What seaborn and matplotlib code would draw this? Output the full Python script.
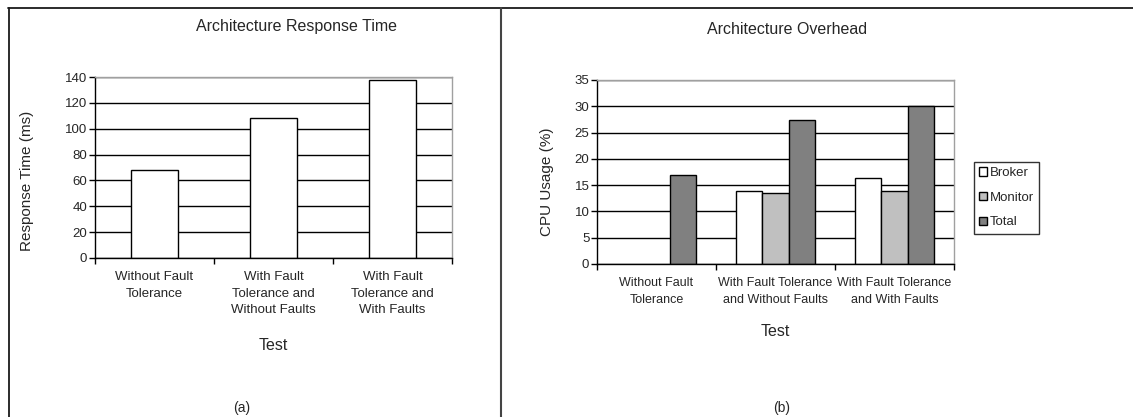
import numpy as np
import pandas as pd
import matplotlib
matplotlib.use("Agg")
import matplotlib.pyplot as plt
from matplotlib.lines import Line2D
from matplotlib.patches import Patch
import seaborn as sns

# ---------------- data ----------------
tests_a = ["Without Fault\nTolerance",
           "With Fault\nTolerance and\nWithout Faults",
           "With Fault\nTolerance and\nWith Faults"]
response_ms = [68, 108, 138]

tests_b = ["Without Fault\nTolerance",
           "With Fault Tolerance\nand Without Faults",
           "With Fault Tolerance\nand With Faults"]
metrics = ["Broker", "Monitor", "Total"]
broker = [np.nan, 13.9, 16.4]
monitor = [np.nan, 13.6, 13.9]
total = [17.0, 27.4, 30.0]
colors = ["#ffffff", "#c0c0c0", "#808080"]

yticks_a = list(range(0, 141, 20))
yticks_b = list(range(0, 36, 5))

# ---------------- style ----------------
sns.set_style("white")
plt.rcParams["font.family"] = ["Liberation Sans", "DejaVu Sans"]

W, H = 1133, 417
fig = plt.figure(figsize=(W / 100, H / 100), dpi=100)
fig.patch.set_facecolor("white")


def fx(x):
    return x / W


def fy(y):
    return 1 - y / H


def axes_px(x0, y0, x1, y1):
    return fig.add_axes([fx(x0), fy(y1), fx(x1) - fx(x0), fy(y0) - fy(y1)])


def style_axes(ax, yticks, labels, xfs):
    ax.set_ylim(yticks[0], yticks[-1])
    ax.set_yticks(yticks)
    ax.set_xlim(-0.5, 2.5)
    ax.set_xticks([-0.5, 0.5, 1.5, 2.5])
    ax.set_xticklabels([])
    ax.set_xticks([0, 1, 2], minor=True)
    ax.set_xticklabels(labels, minor=True, fontsize=xfs, linespacing=1.5)
    ax.tick_params(axis="x", which="major", direction="out", length=4,
                   width=1, color="black", bottom=True)
    ax.tick_params(axis="x", which="minor", length=0, pad=9.5)
    ax.tick_params(axis="y", direction="out", length=4, width=1,
                   color="black", labelsize=9.5, pad=1.5, left=True)
    ax.yaxis.grid(True, color="black", linewidth=1)
    ax.xaxis.grid(False)
    ax.set_axisbelow(True)
    for s in ["left", "bottom"]:
        ax.spines[s].set_color("black")
        ax.spines[s].set_linewidth(1)
    for s in ["top", "right"]:
        ax.spines[s].set_color("#a0a0a0")
        ax.spines[s].set_linewidth(1)
        ax.spines[s].set_visible(True)
    for s in ax.spines.values():
        s.set_zorder(3)
    ax.set_xlabel("")
    ax.set_ylabel("")
    ax.set_facecolor("white")


# ---------------- panel (a) ----------------
df_a = pd.DataFrame({"test": tests_a, "ms": response_ms})
ax1 = axes_px(95, 77, 452, 258)
sns.barplot(data=df_a, x="test", y="ms", order=tests_a, color="white",
            saturation=1, edgecolor="black", linewidth=1, width=0.4,
            ax=ax1, zorder=2)
style_axes(ax1, yticks_a, tests_a, 9.5)

# ---------------- panel (b) ----------------
rows = []
for i, t in enumerate(tests_b):
    for m, vals in zip(metrics, [broker, monitor, total]):
        rows.append({"test": t, "metric": m, "cpu": vals[i]})
df_b = pd.DataFrame(rows).dropna()
ax2 = axes_px(597, 80, 954, 264)
sns.barplot(data=df_b, x="test", y="cpu", hue="metric", order=tests_b,
            hue_order=metrics, palette=colors, saturation=1,
            edgecolor="black", linewidth=1, width=0.67, gap=0,
            legend=False, ax=ax2, zorder=2)
style_axes(ax2, yticks_b, tests_b, 9)

handles = [Patch(facecolor=c, edgecolor="black", linewidth=1) for c in colors]
leg = fig.legend(handles, metrics, loc="upper left",
                 bbox_to_anchor=(fx(974), fy(162)), borderaxespad=0,
                 fontsize=9.5, frameon=True, fancybox=False, shadow=False,
                 handlelength=0.6, handleheight=0.6, handletextpad=0.2,
                 labelspacing=0.95, borderpad=0.4)
leg.get_frame().set_edgecolor("black")
leg.get_frame().set_linewidth(1)

# ---------------- texts ----------------
fig.text(fx(296), fy(27), "Architecture Response Time", ha="center",
         va="center", fontsize=11.5)
fig.text(fx(27), fy(181), "Response Time (ms)", ha="center", va="center",
         rotation=90, fontsize=11)
fig.text(fx(273), fy(346), "Test", ha="center", va="center", fontsize=11.5)
fig.text(fx(242), fy(408), "(a)", ha="center", va="center", fontsize=10)

fig.text(fx(787), fy(29), "Architecture Overhead", ha="center",
         va="center", fontsize=11.5)
fig.text(fx(547), fy(182), "CPU Usage (%)", ha="center", va="center",
         rotation=90, fontsize=11)
fig.text(fx(775), fy(332), "Test", ha="center", va="center", fontsize=11.5)
fig.text(fx(782), fy(408), "(b)", ha="center", va="center", fontsize=10)

# ---------------- panel borders ----------------
lc = "#1a1a1a"
fig.add_artist(Line2D([fx(8), fx(W)], [fy(7.5), fy(7.5)], color=lc, lw=1.3))
fig.add_artist(Line2D([fx(8.5), fx(8.5)], [fy(7.5), fy(H)], color=lc, lw=1.3))
fig.add_artist(Line2D([fx(501), fx(501)], [fy(7.5), fy(H)], color="#444444", lw=1.5))

fig.savefig("out.png", dpi=100, facecolor="white")
